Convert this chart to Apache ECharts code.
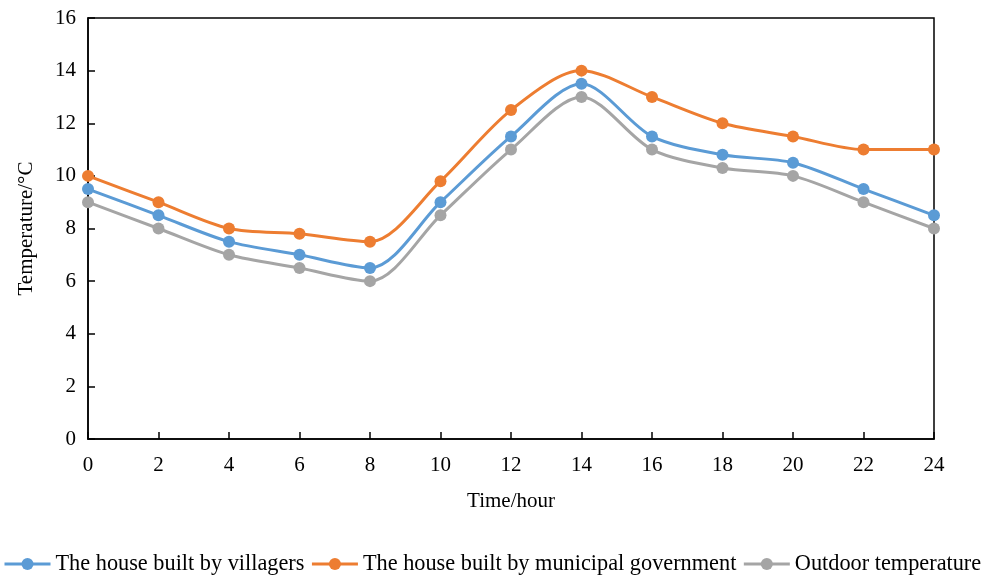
<!DOCTYPE html>
<html>
<head>
<meta charset="utf-8">
<script src="https://cdn.jsdelivr.net/npm/echarts@6/dist/echarts.min.js"></script>
<style>html,body{margin:0;padding:0;background:#fff;}#c{width:986px;height:576px;}</style>
</head>
<body>
<div id="c"></div>
<script>
const hours = [0, 2, 4, 6, 8, 10, 12, 14, 16, 18, 20, 22, 24];
const villagers = [9.5, 8.5, 7.5, 7.0, 6.5, 9.0, 11.5, 13.5, 11.5, 10.8, 10.5, 9.5, 8.5];
const municipal = [10.0, 9.0, 8.0, 7.8, 7.5, 9.8, 12.5, 14.0, 13.0, 12.0, 11.5, 11.0, 11.0];
const outdoor = [9.0, 8.0, 7.0, 6.5, 6.0, 8.5, 11.0, 13.0, 11.0, 10.3, 10.0, 9.0, 8.0];
const seriesNames = ['The house built by villagers', 'The house built by municipal government', 'Outdoor temperature'];
const colors = ['#5B9BD5', '#ED7D31', '#A5A5A5'];

const font = 'Liberation Serif, Times New Roman, serif';
function mk(name, vals, color) {
  return {
    name: name, type: 'line', smooth: 0.3,
    data: hours.map((h, i) => [h, vals[i]]),
    symbol: 'circle', symbolSize: 12,
    lineStyle: { width: 3, color: color },
    itemStyle: { color: color },
    z: 3
  };
}
const chart = echarts.init(document.getElementById('c'));
chart.setOption({
  animation: false,
  textStyle: { fontFamily: font },
  grid: { left: 88, right: 52, top: 18, bottom: 137, show: true, borderColor: '#000', borderWidth: 1.5, backgroundColor: 'transparent', outerBoundsMode: 'none', containLabel: false },
  legend: {
    bottom: 1, left: 3, width: 983, padding: 0, itemGap: 6, itemWidth: 46, itemHeight: 15,
    lineStyle: { width: 3 },
    textStyle: { fontFamily: font, fontSize: 22.3, color: '#000' },
    data: seriesNames
  },
  xAxis: {
    type: 'value', min: 0, max: 24, interval: 2,
    name: 'Time/hour', nameLocation: 'middle', nameGap: 52,
    nameTextStyle: { fontFamily: font, fontSize: 21, color: '#000' },
    axisLine: { show: true, lineStyle: { color: '#000', width: 1.5 } },
    axisTick: { show: true, inside: true, length: 7, lineStyle: { color: '#000', width: 1.5 } },
    axisLabel: { fontFamily: font, fontSize: 21, color: '#000', margin: 16 },
    splitLine: { show: false }
  },
  yAxis: {
    type: 'value', min: 0, max: 16, interval: 2,
    name: 'Temperature/°C', nameLocation: 'middle', nameGap: 51,
    nameTextStyle: { fontFamily: font, fontSize: 21, color: '#000' },
    axisLine: { show: true, lineStyle: { color: '#000', width: 1.5 } },
    axisTick: { show: true, inside: true, length: 7, lineStyle: { color: '#000', width: 1.5 } },
    axisLabel: { fontFamily: font, fontSize: 21, color: '#000', margin: 12 },
    splitLine: { show: false }
  },
  series: [
    mk(seriesNames[0], villagers, colors[0]),
    mk(seriesNames[1], municipal, colors[1]),
    mk(seriesNames[2], outdoor, colors[2])
  ]
});
</script>
</body>
</html>
